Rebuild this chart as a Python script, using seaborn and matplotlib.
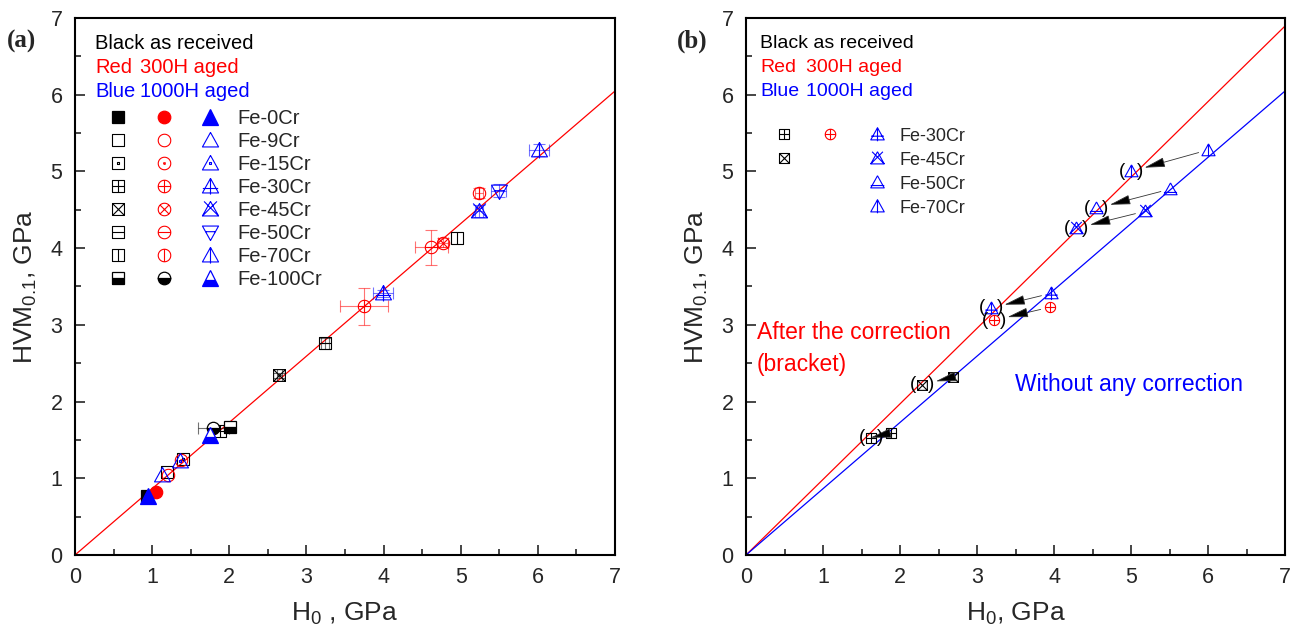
import numpy as np
import pandas as pd
import matplotlib
matplotlib.use("Agg")
import matplotlib.pyplot as plt
from matplotlib.path import Path
from matplotlib.lines import Line2D
from matplotlib.legend_handler import HandlerTuple
from matplotlib.ticker import MultipleLocator
import seaborn as sns

# ---------------- data ----------------
alloys = ["Fe-0Cr", "Fe-9Cr", "Fe-15Cr", "Fe-30Cr", "Fe-45Cr", "Fe-50Cr", "Fe-70Cr", "Fe-100Cr"]

# as received
h0_received = [0.93, 1.19, 1.40, 1.88, 2.65, 3.24, 4.95, 2.01]
hvm_received = [0.77, 1.08, 1.25, 1.62, 2.34, 2.76, 4.13, 1.67]
h0err_received = [0, 0, 0, 0, 0.03, 0.05, 0, 0]
hvmerr_received = [0, 0, 0, 0, 0.03, 0.07, 0, 0]

# 300 h aged
h0_300h = [1.05, 1.21, 1.38, 3.75, 4.77, 4.62, 5.24, 1.79]
hvm_300h = [0.82, 1.04, 1.24, 3.24, 4.07, 4.01, 4.72, 1.66]
h0err_300h = [0, 0, 0, 0.31, 0.07, 0.21, 0.05, 0.20]
hvmerr_300h = [0, 0, 0, 0.24, 0.06, 0.23, 0.07, 0]

# 1000 h aged
h0_1000h = [0.95, 1.13, 1.36, 3.99, 5.24, 5.49, 6.01, 1.75]
hvm_1000h = [0.77, 1.04, 1.22, 3.41, 4.48, 4.75, 5.28, 1.57]
h0err_1000h = [0, 0, 0, 0.13, 0.05, 0.10, 0.13, 0]
hvmerr_1000h = [0, 0, 0, 0.05, 0.08, 0.08, 0.08, 0]

slope_a = 0.864

# panel (b): raw values and values after the correction
b_alloys = ["Fe-30Cr", "Fe-45Cr", "Fe-30Cr", "Fe-30Cr", "Fe-45Cr", "Fe-50Cr", "Fe-70Cr"]
b_state = ["received", "received", "300H", "1000H", "1000H", "1000H", "1000H"]
h0_raw = [1.88, 2.69, 3.95, 3.96, 5.18, 5.51, 6.00]
hvm_raw = [1.59, 2.32, 3.23, 3.41, 4.48, 4.77, 5.28]
h0_corr = [1.62, 2.29, 3.22, 3.18, 4.29, 4.55, 5.00]
hvm_corr = [1.53, 2.22, 3.06, 3.22, 4.26, 4.52, 5.00]
slope_raw = 0.864
slope_corr = 0.985

ticks = [0, 1, 2, 3, 4, 5, 6, 7]

# ---------------- style ----------------
sns.set_style("ticks")
plt.rcParams["font.family"] = ["Liberation Sans", "DejaVu Sans"]
plt.rcParams["mathtext.fontset"] = "custom"
plt.rcParams["mathtext.rm"] = "Liberation Sans"

RED = "#ff0000"
BLUE = "#0000ff"
BLACK = "#000000"
state_color = {"received": BLACK, "300H": RED, "1000H": BLUE}


# ---------------- custom symbols ----------------
def _circle_pts(n=48):
    t = np.linspace(0, 2 * np.pi, n)
    return [(np.cos(a), np.sin(a)) for a in t]


SHAPES = {
    "square": [(-1, -1), (1, -1), (1, 1), (-1, 1), (-1, -1)],
    "circle": _circle_pts(),
    "tri": [(0, 1), (-1, -0.8), (1, -0.8), (0, 1)],
    "tri_down": [(0, -1), (-1, 0.8), (1, 0.8), (0, -1)],
}

d = 0.12
DOT = [(-d, -d), (d, -d), (d, d), (-d, d), (-d, -d)]
c45 = 0.7071

OVERLAYS = {
    "square": {
        "plus": [[(-1, 0), (1, 0)], [(0, -1), (0, 1)]],
        "cross": [[(-1, -1), (1, 1)], [(-1, 1), (1, -1)]],
        "hline": [[(-1, 0), (1, 0)]],
        "vline": [[(0, -1), (0, 1)]],
        "dot": [DOT],
    },
    "circle": {
        "plus": [[(-1, 0), (1, 0)], [(0, -1), (0, 1)]],
        "cross": [[(-c45, -c45), (c45, c45)], [(-c45, c45), (c45, -c45)]],
        "hline": [[(-1, 0), (1, 0)]],
        "vline": [[(0, -1), (0, 1)]],
        "dot": [DOT],
    },
    "tri": {
        "plus": [[(0, 1), (0, -1)], [(-0.95, -0.25), (0.95, -0.25)]],
        "cross": [[(-1, -0.8), (0.8, 1)], [(1, -0.8), (-0.8, 1)]],
        "hline": [[(-1, -0.45), (1, -0.45)]],
        "vline": [[(0, 1), (0, -1)]],
        "dot": [DOT],
    },
    "tri_down": {
        "hline": [[(-0.61, 0.1), (0.61, 0.1)]],
    },
}


def symbol(shape, overlay=None):
    verts, codes = [], []
    lines = [SHAPES[shape]]
    if overlay:
        lines += OVERLAYS[shape][overlay]
    for ln in lines:
        verts += list(ln)
        codes += [Path.MOVETO] + [Path.LINETO] * (len(ln) - 1)
    return Path(verts, codes)


overlay_of = {"Fe-9Cr": None, "Fe-15Cr": "dot", "Fe-30Cr": "plus", "Fe-45Cr": "cross",
              "Fe-50Cr": "hline", "Fe-70Cr": "vline"}
base_shape = {"received": ("s", "square"), "300H": ("o", "circle"), "1000H": ("^", "tri")}
size_scale = {"received": 1.0, "300H": 1.05, "1000H": 1.35}


def marker_style(state, alloy, size, panel="a"):
    col = state_color[state]
    builtin, shape = base_shape[state]
    ms = size * size_scale[state]
    if alloy == "Fe-0Cr":
        return dict(marker=builtin, ms=ms, mfc=col, mec=col, mew=0.9)
    if alloy == "Fe-100Cr":
        col = BLACK if state != "1000H" else BLUE
        return dict(marker=builtin, ms=ms, fillstyle="bottom", mfc=col,
                    mfcalt="white", mec=col, mew=0.9)
    if state == "1000H" and alloy == "Fe-50Cr" and panel == "a":
        shape = "tri_down"
    return dict(marker=symbol(shape, overlay_of[alloy]), ms=ms, mfc="none",
                mec=col, mew=0.8)


# ---------------- figure ----------------
fig = plt.figure(figsize=(13, 6.36), dpi=100)
ax_a = fig.add_axes([0.05769, 0.12736, 0.41538, 0.84434])
ax_b = fig.add_axes([0.57385, 0.12736, 0.41462, 0.84434])


def style_axes(ax, xlabel):
    ax.set_xlim(0, 7)
    ax.set_ylim(0, 7)
    ax.set_xticks(ticks)
    ax.set_yticks(ticks)
    ax.xaxis.set_minor_locator(MultipleLocator(0.5))
    ax.yaxis.set_minor_locator(MultipleLocator(0.5))
    ax.tick_params(which="both", direction="in", top=False, right=False,
                   width=1.2, labelsize=15.5, pad=9)
    ax.tick_params(which="major", length=7)
    ax.tick_params(which="minor", length=4)
    for sp in ax.spines.values():
        sp.set_visible(True)
        sp.set_linewidth(1.5)
        sp.set_color("black")
    ax.set_xlabel(xlabel, fontsize=19, labelpad=9)
    ax.set_ylabel(r"HVM$\mathregular{_{0.1}}$, GPa", fontsize=19, labelpad=8)


def header(ax, xs, ys, fs):
    ax.text(xs[0], ys[0], "Black as received", transform=ax.transAxes,
            fontsize=fs, color=BLACK, va="center")
    ax.text(xs[0], ys[1], "Red", transform=ax.transAxes, fontsize=fs, color=RED, va="center")
    ax.text(xs[1], ys[1], "300H aged", transform=ax.transAxes, fontsize=fs, color=RED, va="center")
    ax.text(xs[0], ys[2], "Blue", transform=ax.transAxes, fontsize=fs, color=BLUE, va="center")
    ax.text(xs[1], ys[2], "1000H aged", transform=ax.transAxes, fontsize=fs, color=BLUE, va="center")


# ---------- panel (a) ----------
frames = []
for state, h0, hvm, h0e, hvme in [
    ("received", h0_received, hvm_received, h0err_received, hvmerr_received),
    ("300H", h0_300h, hvm_300h, h0err_300h, hvmerr_300h),
    ("1000H", h0_1000h, hvm_1000h, h0err_1000h, hvmerr_1000h),
]:
    frames.append(pd.DataFrame({"alloy": alloys, "state": state, "H0": h0, "HVM": hvm,
                                "H0_err": h0e, "HVM_err": hvme}))
df_a = pd.concat(frames, ignore_index=True)

line_x = np.array([0.0, 7.0])
sns.lineplot(x=line_x, y=slope_a * line_x, ax=ax_a, color=RED, lw=0.9, zorder=1)

for _, r in df_a.iterrows():
    st = marker_style(r.state, r.alloy, 8.5)
    ecol = st["mec"]
    if r.H0_err > 0 or r.HVM_err > 0:
        ax_a.errorbar([r.H0], [r.HVM],
                      xerr=[r.H0_err] if r.H0_err > 0 else None,
                      yerr=[r.HVM_err] if r.HVM_err > 0 else None,
                      fmt="none", ecolor=ecol, elinewidth=0.8, capsize=4.5,
                      capthick=0.8, alpha=0.55, zorder=2)
    ax_a.plot([r.H0], [r.HVM], ls="none", zorder=3, **st)

style_axes(ax_a, r"H$\mathregular{_0}$ , GPa")
header(ax_a, (0.037, 0.120), (0.953, 0.908, 0.863), 14.5)

handles_a = [tuple(Line2D([], [], ls="none", **marker_style(s, al, 8.6))
                   for s in ("received", "300H", "1000H")) for al in alloys]
ax_a.legend(handles_a, alloys, loc="upper left", bbox_to_anchor=(0.043, 0.831),
            frameon=False, fontsize=14.5, borderpad=0, borderaxespad=0,
            handlelength=6.55, handletextpad=0.35, labelspacing=0.2,
            handler_map={tuple: HandlerTuple(ndivide=None, pad=0.3)})

# ---------- panel (b) ----------
df_b = pd.DataFrame({"alloy": b_alloys, "state": b_state, "H0_raw": h0_raw,
                     "HVM_raw": hvm_raw, "H0_corr": h0_corr, "HVM_corr": hvm_corr})

sns.lineplot(x=line_x, y=slope_corr * line_x, ax=ax_b, color=RED, lw=0.9, zorder=1)
sns.lineplot(x=line_x, y=slope_raw * line_x, ax=ax_b, color=BLUE, lw=0.9, zorder=1)

for _, r in df_b.iterrows():
    st = marker_style(r.state, r.alloy, 7.0, panel="b")
    ax_b.plot([r.H0_raw], [r.HVM_raw], ls="none", zorder=3, **st)
    ax_b.plot([r.H0_corr], [r.HVM_corr], ls="none", zorder=3, **st)
    ax_b.annotate("", xy=(r.H0_corr, r.HVM_corr), xytext=(r.H0_raw, r.HVM_raw),
                  arrowprops=dict(arrowstyle="-|>,head_length=1.3,head_width=0.3",
                                  color="#333333", fc="black", lw=0.6,
                                  shrinkA=7, shrinkB=10),
                  zorder=4)
    for ch, dx in (("(", -6.5), (")", 6.5)):
        ax_b.annotate(ch, xy=(r.H0_corr, r.HVM_corr), xytext=(dx, 0),
                      textcoords="offset points", ha="center", va="center",
                      fontsize=13.5, color=BLACK, zorder=4)

style_axes(ax_b, r"H$\mathregular{_0}$, GPa")
header(ax_b, (0.026, 0.111), (0.953, 0.908, 0.863), 14)

none_h = Line2D([], [], ls="none", marker="None")
b_legend_alloys = ["Fe-30Cr", "Fe-45Cr", "Fe-50Cr", "Fe-70Cr"]
b_legend_rows = [
    (marker_style("received", "Fe-30Cr", 7.2, "b"), marker_style("300H", "Fe-30Cr", 7.2, "b"),
     marker_style("1000H", "Fe-30Cr", 7.2, "b")),
    (marker_style("received", "Fe-45Cr", 7.2, "b"), None, marker_style("1000H", "Fe-45Cr", 7.2, "b")),
    (None, None, marker_style("1000H", "Fe-50Cr", 7.2, "b")),
    (None, None, marker_style("1000H", "Fe-70Cr", 7.2, "b")),
]
handles_b = [tuple(Line2D([], [], ls="none", **st) if st else none_h for st in row)
             for row in b_legend_rows]
ax_b.legend(handles_b, b_legend_alloys, loc="upper left", bbox_to_anchor=(0.033, 0.796),
            frameon=False, fontsize=13, borderpad=0, borderaxespad=0,
            handlelength=7.35, handletextpad=0.17, labelspacing=0.39,
            handler_map={tuple: HandlerTuple(ndivide=None, pad=0.36)})

ax_b.text(0.020, 0.415, "After the correction", transform=ax_b.transAxes,
          fontsize=16.5, color=RED, va="center")
ax_b.text(0.020, 0.354, "(bracket)", transform=ax_b.transAxes,
          fontsize=16.5, color=RED, va="center")
ax_b.text(0.499, 0.317, "Without any correction", transform=ax_b.transAxes,
          fontsize=16.5, color=BLUE, va="center")

# panel tags
fig.text(0.0054, 0.935, "(a)", fontsize=18, fontweight="bold",
         family="Liberation Serif", va="center")
fig.text(0.521, 0.935, "(b)", fontsize=18, fontweight="bold",
         family="Liberation Serif", va="center")

fig.savefig("out.png", dpi=100)
